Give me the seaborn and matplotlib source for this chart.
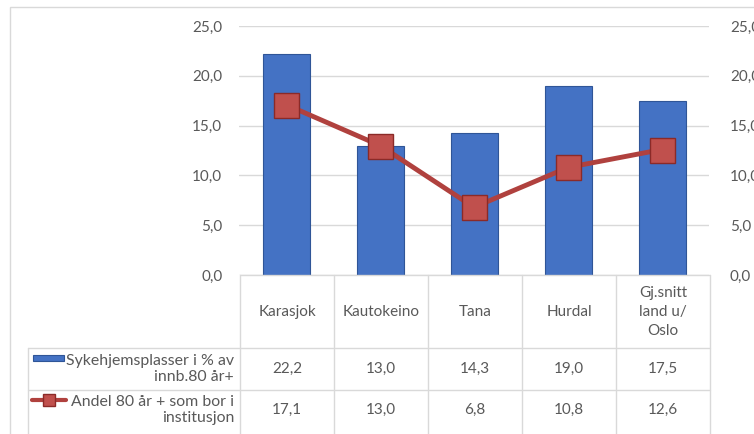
import matplotlib
matplotlib.use("Agg")
import matplotlib.pyplot as plt
import seaborn as sns
import numpy as np
from matplotlib.ticker import FuncFormatter, MultipleLocator
from matplotlib.lines import Line2D
from matplotlib.patches import Rectangle

categories = ["Karasjok", "Kautokeino", "Tana", "Hurdal", "Gj.snitt\nland u/\nOslo"]
sykehjem = [22.2, 13.0, 14.3, 19.0, 17.5]
andel = [17.1, 13.0, 6.8, 10.8, 12.6]
series_names = ["Sykehjemsplasser i % av\ninnb.80 år+", "Andel 80 år + som bor i\ninstitusjon"]

sns.set_style("white")
plt.rcParams['font.family'] = ['Lato', 'DejaVu Sans']
TXT = "#595959"
GRID = "#D9D9D9"
BLUE = "#4472C4"
RED = "#C0504D"

W, H = 754, 434
fig = plt.figure(figsize=(W / 100, H / 100), dpi=100)
fx = lambda x: x / W
fy = lambda y: 1 - y / H

# outer chart frame
fig.patches.append(Rectangle((fx(10), fy(440)), fx(760) - fx(10), fy(7) - fy(440),
                             transform=fig.transFigure, fill=False, edgecolor=GRID, lw=1))

x0, x1, ytop, ybot = 239, 709, 26, 275
ax = fig.add_axes([fx(x0), fy(ybot), fx(x1) - fx(x0), fy(ytop) - fy(ybot)])
sns.barplot(x=list(range(5)), y=sykehjem, ax=ax, color=BLUE, width=0.5,
            edgecolor="#2F5597", linewidth=0.8, saturation=1, zorder=2)
ax.set_xlim(-0.5, 4.5)
ax.set_ylim(0, 25)
ax.yaxis.set_major_locator(MultipleLocator(5))
fmt = FuncFormatter(lambda v, p: f"{v:.1f}".replace(".", ","))
ax.yaxis.set_major_formatter(fmt)
ax.grid(axis="y", color=GRID, lw=1, zorder=0)
ax.set_axisbelow(True)
for s in ax.spines.values():
    s.set_visible(False)
ax.set_xticks([])
ax.set_xlabel("")
ax.tick_params(axis="y", length=0, pad=12, labelcolor=TXT, labelsize=11)

ax2 = ax.twinx()
sns.lineplot(x=list(range(5)), y=andel, ax=ax2, color="#B0413E", lw=3.5, marker="s",
             markersize=18, markerfacecolor=RED, markeredgecolor="#8B2A28",
             markeredgewidth=1, zorder=3)
ax2.set_xlim(-0.5, 4.5)
ax2.set_ylim(0, 25)
ax2.yaxis.set_major_locator(MultipleLocator(5))
ax2.yaxis.set_major_formatter(fmt)
for s in ax2.spines.values():
    s.set_visible(False)
ax2.set_ylabel("")
ax2.tick_params(axis="y", length=0, pad=15, labelcolor=TXT, labelsize=11)

# data table
def hline(y, xa, xb):
    fig.add_artist(Line2D([fx(xa), fx(xb)], [fy(y), fy(y)], transform=fig.transFigure, color=GRID, lw=1))

def vline(x, ya, yb):
    fig.add_artist(Line2D([fx(x), fx(x)], [fy(ya), fy(yb)], transform=fig.transFigure, color=GRID, lw=1))

cols = [240, 334, 428, 522, 616, 710]
hline(275, 240, 710)
hline(348, 28, 710)
hline(390, 28, 710)
vline(28, 348, 440)
for c in cols:
    vline(c, 275, 440)

centers = [(cols[i] + cols[i + 1]) / 2 for i in range(5)]
for cx, cat in zip(centers, categories):
    fig.text(fx(cx), fy(312), cat, ha="center", va="center", color=TXT, fontsize=11,
             linespacing=1.45)

for cx, v in zip(centers, sykehjem):
    fig.text(fx(cx), fy(369), f"{v:.1f}".replace(".", ","), ha="center", va="center", color=TXT, fontsize=11)
for cx, v in zip(centers, andel):
    fig.text(fx(cx), fy(410), f"{v:.1f}".replace(".", ","), ha="center", va="center", color=TXT, fontsize=11)

fig.text(fx(234), fy(369), series_names[0], ha="right", va="center", color=TXT, fontsize=11.4,
         linespacing=1.25)
fig.text(fx(234), fy(410), series_names[1], ha="right", va="center", color=TXT, fontsize=11.4,
         linespacing=1.25)

# legend keys
fig.patches.append(Rectangle((fx(33), fy(361)), fx(64) - fx(33), fy(355) - fy(361),
                             transform=fig.transFigure, facecolor=BLUE, edgecolor="#2F5597", lw=0.8))
fig.add_artist(Line2D([fx(32), fx(66)], [fy(400), fy(400)], transform=fig.transFigure,
                      color="#B0413E", lw=3))
fig.add_artist(Line2D([fx(49)], [fy(400)], transform=fig.transFigure, marker="s",
                      markersize=8.5, markerfacecolor=RED, markeredgecolor="#8B2A28", lw=0))

fig.savefig("out.png", dpi=100)
